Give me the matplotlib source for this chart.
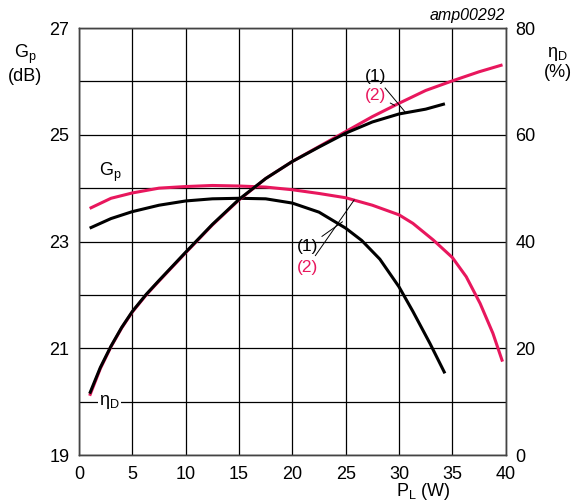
import numpy as np
import matplotlib.pyplot as plt

plt.rcParams['font.family'] = ['Liberation Sans', 'DejaVu Sans']
plt.rcParams['mathtext.fontset'] = 'custom'
plt.rcParams['mathtext.rm'] = 'Liberation Sans'

RED = '#e8175d'

# power gain vs load power (dB)
pl_gp1 = [1, 3, 5, 7.5, 10, 12.5, 15, 17.5, 20, 22.5, 25, 26.5, 28.2, 30, 31.3, 32.9, 34.3]
gp1 = [23.25, 23.43, 23.56, 23.68, 23.76, 23.8, 23.81, 23.8, 23.72, 23.55, 23.25, 23.02,
       22.67, 22.15, 21.69, 21.09, 20.53]
pl_gp2 = [1, 3, 5, 7.5, 10, 12.5, 15, 17.5, 20, 22.5, 25, 27.5, 30, 31.3, 33.2, 35,
          36.3, 37.6, 38.8, 39.7]
gp2 = [23.62, 23.81, 23.91, 24.0, 24.03, 24.05, 24.04, 24.02, 23.97, 23.9, 23.82, 23.68,
       23.5, 23.34, 23.03, 22.7, 22.34, 21.84, 21.28, 20.75]

# drain efficiency vs load power (%)
pl_eff1 = [1, 2, 3, 4, 5, 6.3, 7.5, 10, 12.5, 15, 17.5, 20, 22.5, 25, 27.5, 30, 32.5, 34.3]
eff1 = [11.5, 16.4, 20.4, 23.9, 26.9, 30.1, 32.7, 38.0, 43.2, 47.9, 51.8, 55, 57.7, 60.3,
        62.4, 63.9, 64.8, 65.8]
pl_eff2 = [1, 2, 3, 4, 5, 6.3, 7.5, 10, 12.5, 15, 17.5, 20, 22.5, 25, 27.5, 30, 32.5, 35,
           37.5, 39.7]
eff2 = [11.1, 16.2, 20.3, 23.8, 26.8, 30.0, 32.6, 37.9, 43.1, 47.8, 51.8, 55, 57.8, 60.6,
        63.4, 65.9, 68.3, 70.1, 71.8, 73.1]

fig = plt.figure(figsize=(5.75, 5.04), dpi=100)
ax = fig.add_axes([0.1374, 0.0972, 0.7421, 0.8472])
ax2 = ax.twinx()

ax.set_xlim(0, 40)
ax.set_ylim(19, 27)
ax2.set_ylim(0, 80)

ax.set_xticks(np.arange(0, 41, 5))
ax.set_yticks(np.arange(19, 28, 1))
ax.set_yticklabels(['19', '', '21', '', '23', '', '25', '', '27'])
ax2.set_yticks(np.arange(0, 81, 20))
ax.grid(True, color='black', lw=0.9)
ax.tick_params(axis='x', length=0, labelsize=13, pad=8)
ax.tick_params(axis='y', length=0, labelsize=13, pad=7)
ax2.tick_params(length=0, labelsize=13, pad=7)
for a in (ax, ax2):
    for s in a.spines.values():
        s.set_color('#444444')
        s.set_linewidth(1)

ax.plot(pl_gp2, gp2, color=RED, lw=2.2, solid_capstyle='butt')
ax.plot(pl_gp1, gp1, color='black', lw=2.2, solid_capstyle='butt')
ax2.plot(pl_eff2, eff2, color=RED, lw=2.2, solid_capstyle='butt')
ax2.plot(pl_eff1, eff1, color='black', lw=2.2, solid_capstyle='butt')

# curve labels with leader lines
line = dict(arrowstyle='-', color='black', lw=0.7, shrinkA=1, shrinkB=0)
ax.annotate('(1)', xy=(24.7, 23.37), xytext=(22.4, 22.9), fontsize=12.5,
            ha='right', va='center', arrowprops=line)
ax.annotate('(2)', xy=(25.8, 23.78), xytext=(22.4, 22.52), fontsize=12.5,
            color=RED, ha='right', va='center', arrowprops=line)
ax2.annotate('(1)', xy=(30.6, 64.2), xytext=(28.8, 70.9), fontsize=12.5,
             ha='right', va='center', arrowprops=line)
ax2.annotate('(2)', xy=(29.6, 65.5), xytext=(28.8, 67.4), fontsize=12.5,
             color=RED, ha='right', va='center', arrowprops=line)

ax.text(1.9, 24.3, 'G$_\\mathregular{p}$', fontsize=13, va='center')
ax.text(1.9, 20.0, 'η$_\\mathregular{D}$', fontsize=13, va='center',
        bbox=dict(facecolor='white', edgecolor='none', pad=1))

fig.text(0.0435, 0.873, 'G$_\\mathregular{p}$\n(dB)', fontsize=13, ha='center',
         va='center', linespacing=1.1)
fig.text(0.970, 0.875, 'η$_\\mathregular{D}$\n(%)', fontsize=13, ha='center',
         va='center', linespacing=1.1)
fig.text(0.879, 0.970, 'amp00292', fontsize=11.5, style='italic', ha='right', va='center')
ax.set_xlabel('P$_\\mathregular{L}$ (W)', fontsize=13, labelpad=0)
ax.xaxis.set_label_coords(0.808, -0.06)

fig.savefig('out.png', dpi=100)
